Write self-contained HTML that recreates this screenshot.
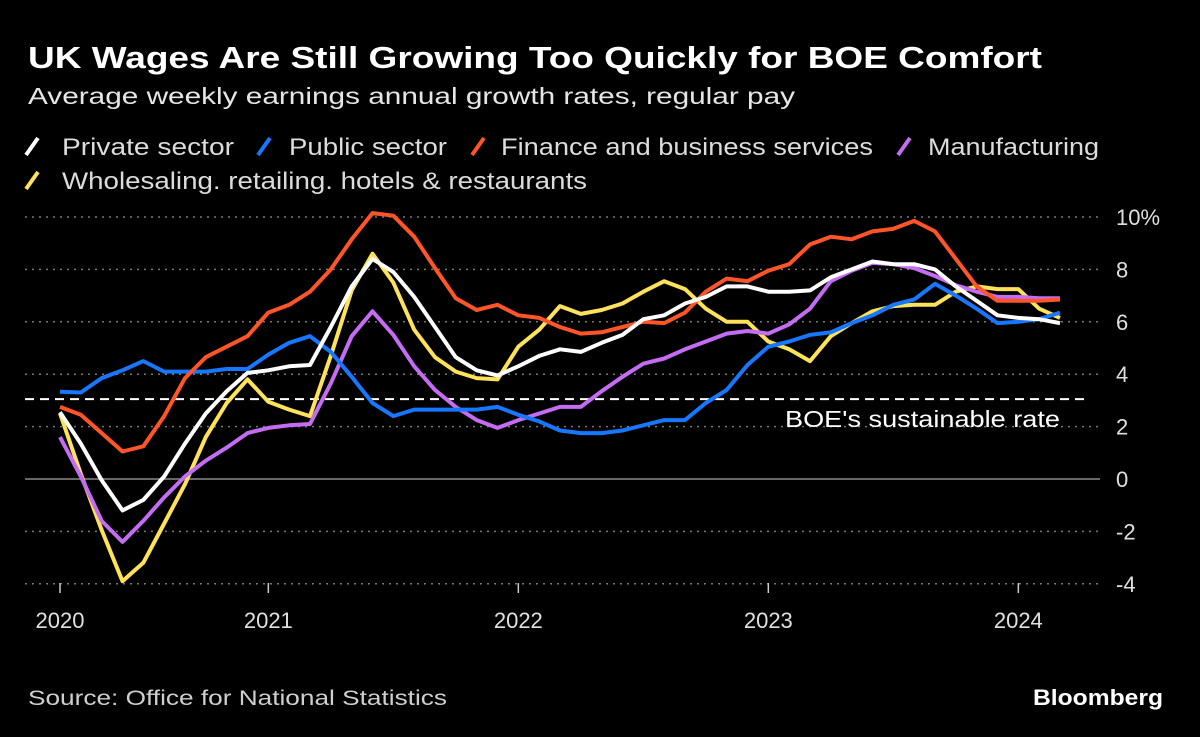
<!DOCTYPE html>
<html><head><meta charset="utf-8"><style>
html,body{margin:0;padding:0;background:#000;}
svg{display:block;font-family:"Liberation Sans",sans-serif;}
</style></head><body>
<svg id="chart" width="1200" height="737" viewBox="0 0 1200 737">
<rect width="1200" height="737" fill="#000"/>
<text x="28" y="68" fill="#fff" font-size="31" font-weight="bold" textLength="1014" lengthAdjust="spacingAndGlyphs">UK Wages Are Still Growing Too Quickly for BOE Comfort</text>
<text x="28" y="104" fill="#e6e6e6" font-size="23" textLength="767" lengthAdjust="spacingAndGlyphs">Average weekly earnings annual growth rates, regular pay</text>
<g id="legend"></g>
<g id="grid"></g>
<g id="series"></g>
<text x="28" y="705" fill="#cfcfcf" font-size="21" textLength="419" lengthAdjust="spacingAndGlyphs">Source: Office for National Statistics</text>
<text x="1163" y="705" fill="#fff" font-size="22" font-weight="bold" text-anchor="end" textLength="130" lengthAdjust="spacingAndGlyphs">Bloomberg</text>
</svg>
<script>
// months from Mar 2020 (index 0) to Mar 2024 (index 48)
const yTicks = [10, 8, 6, 4, 2, 0, -2, -4];
const yTickLabels = ["10%", "8", "6", "4", "2", "0", "-2", "-4"];
const xTickIdx = [0, 10, 22, 34, 46];
const xTickLabels = ["2020", "2021", "2022", "2023", "2024"];
const boeRate = 3.05;
const seriesNames = ["Private sector", "Public sector", "Finance and business services", "Manufacturing", "Wholesaling. retailing. hotels & restaurants"];
const privateSector = [2.55,1.35,-0.05,-1.2,-0.8,0.1,1.35,2.5,3.35,4.05,4.15,4.3,4.35,5.8,7.35,8.4,7.9,6.95,5.8,4.65,4.15,3.95,4.3,4.7,4.95,4.85,5.2,5.5,6.1,6.25,6.7,6.95,7.35,7.35,7.15,7.15,7.2,7.7,8.0,8.3,8.2,8.2,8.0,7.35,6.8,6.25,6.15,6.1,5.95];
const publicSector = [3.33,3.3,3.85,4.15,4.5,4.1,4.1,4.1,4.2,4.2,4.75,5.2,5.45,4.85,3.9,2.9,2.4,2.65,2.65,2.65,2.65,2.75,2.45,2.2,1.85,1.75,1.75,1.85,2.05,2.25,2.25,2.9,3.4,4.35,5.05,5.25,5.5,5.6,5.95,6.25,6.65,6.85,7.45,7.0,6.5,5.95,6.0,6.1,6.35];
const finance = [2.75,2.45,1.75,1.05,1.25,2.4,3.85,4.65,5.05,5.45,6.35,6.65,7.15,8.0,9.15,10.15,10.05,9.25,8.05,6.9,6.45,6.65,6.25,6.15,5.8,5.55,5.6,5.8,6.0,5.95,6.35,7.15,7.65,7.55,7.95,8.2,8.95,9.25,9.15,9.45,9.55,9.85,9.45,8.4,7.35,6.8,6.8,6.8,6.85];
const manufacturing = [1.6,0.1,-1.6,-2.4,-1.6,-0.7,0.1,0.7,1.2,1.75,1.95,2.05,2.1,3.65,5.45,6.4,5.5,4.3,3.4,2.75,2.25,1.95,2.25,2.5,2.75,2.75,3.35,3.9,4.4,4.6,4.95,5.25,5.55,5.65,5.55,5.9,6.5,7.55,7.95,8.25,8.2,8.05,7.75,7.4,7.15,6.95,6.95,6.9,6.9];
const wholesale = [2.5,0.2,-1.95,-3.9,-3.2,-1.7,-0.2,1.6,2.9,3.8,2.95,2.65,2.4,4.7,7.2,8.6,7.5,5.7,4.65,4.1,3.85,3.8,5.05,5.7,6.6,6.3,6.45,6.7,7.15,7.55,7.25,6.5,6.0,6.0,5.25,4.95,4.5,5.45,5.95,6.4,6.6,6.65,6.65,7.15,7.35,7.25,7.25,6.5,6.15];

const NS = "http://www.w3.org/2000/svg";
const X0 = 60, DX = 250/12;
const xs = i => X0 + i * DX;
const ys = v => 479 - v * 26.2;
function mk(tag, attrs, parent, txt) {
  const e = document.createElementNS(NS, tag);
  for (const k in attrs) e.setAttribute(k, attrs[k]);
  if (txt !== undefined) e.textContent = txt;
  parent.appendChild(e);
  return e;
}
const grid = document.getElementById('grid');
yTicks.forEach((v, k) => {
  const ln = mk('line', {x1: 25, x2: 1100, y1: ys(v), y2: ys(v), stroke: v === 0 ? '#8a8a8a' : '#777', 'stroke-width': 1.5, 'stroke-dasharray': v === 0 ? '' : '2 5'}, grid);
  
  
  const t = mk('text', {x: 1116, y: ys(v) + 8, fill: '#e0e0e0', 'font-size': 22}, grid, yTickLabels[k]);
  
  
});
xTickIdx.forEach((i, k) => {
  const tk = mk('line', {x1: xs(i), x2: xs(i), y1: 583, y2: 593, stroke: '#ccc', 'stroke-width': 1.5}, grid);
  
  
  const t = mk('text', {x: xs(i), y: 628, fill: '#e0e0e0', 'font-size': 22, 'text-anchor': 'middle'}, grid, xTickLabels[k]);
  
  
});
const boe = mk('line', {x1: 25, x2: 1090, y1: ys(boeRate), y2: ys(boeRate), stroke: '#fff', 'stroke-width': 2, 'stroke-dasharray': '9 6'}, grid);


const boeT = mk('text', {x: 785, y: ys(boeRate) + 28, fill: '#fff', 'font-size': 23, textLength: 275, lengthAdjust: 'spacingAndGlyphs'}, grid, "BOE's sustainable rate");



const colors = ['#ffffff', '#1877ff', '#ff5528', '#c46cf2', '#fde25a'];
const data = [privateSector, publicSector, finance, manufacturing, wholesale];
const ids = ['private-sector', 'public-sector', 'finance-business', 'manufacturing', 'wholesale-retail'];
const series = document.getElementById('series');
[4, 3, 1, 2, 0].forEach(s => {
  const d = data[s].map((v, i) => (i ? 'L' : 'M') + xs(i).toFixed(1) + ' ' + ys(v).toFixed(1)).join(' ');
  const p = mk('path', {d: d, fill: 'none', stroke: colors[s], 'stroke-width': 4, 'stroke-linejoin': 'round'}, series);
  
  
});

const legend = document.getElementById('legend');
const legPos = [[26, 146, 62, 172], [258, 146, 289, 158], [472, 146, 501, 372], [898, 146, 928, 171], [26, 180, 62, 525]];
seriesNames.forEach((n, s) => {
  const [x, y, tx, w] = legPos[s];
  const g = mk('g', {}, legend);
  
  
  mk('line', {x1: x, y1: y + 9, x2: x + 12, y2: y - 8, stroke: colors[s], 'stroke-width': 4}, g);
  mk('text', {x: tx, y: y + 9, fill: '#dcdcdc', 'font-size': 24, textLength: w, lengthAdjust: 'spacingAndGlyphs'}, g, n);
});
</script>
</body></html>
